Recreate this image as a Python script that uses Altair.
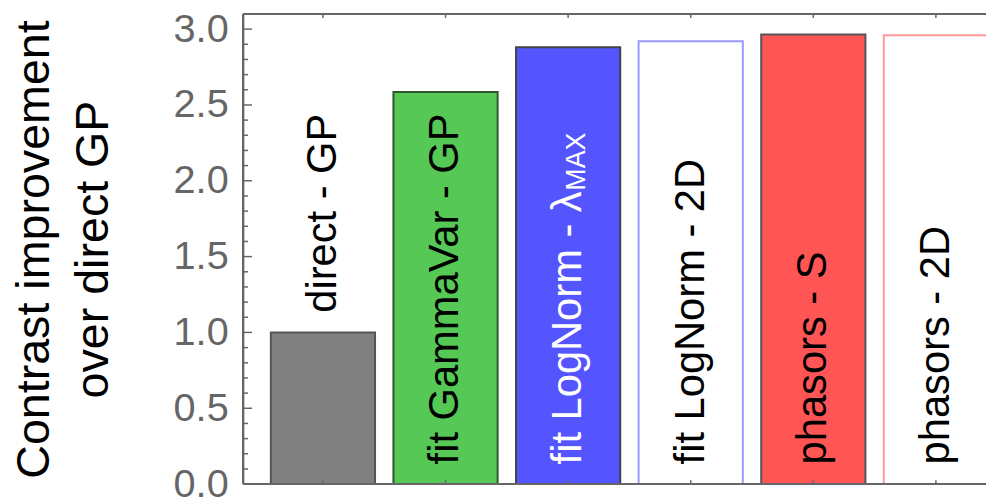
import altair as alt
import pandas as pd

# ---- data ----
categories = ["direct - GP", "fit GammaVar - GP", "fit LogNorm - λ", "fit LogNorm - 2D",
              "phasors - S", "phasors - 2D"]
values = [1.00, 2.585, 2.88, 2.92, 2.965, 2.96]
y_ticks = [0.0, 0.5, 1.0, 1.5, 2.0, 2.5, 3.0]
minor_ticks = [round(i * 0.1, 1) for i in range(31)]

# ---- styles ----
fill_colors = ["#808080", "#55c855", "#5555ff", "#ffffff", "#ff5555", "#ffffff"]
stroke_colors = ["#555555", "#2f5a2f", "#444444", "#9999ff", "#555555", "#ff9999"]
text_colors = ["#000000", "#000000", "#ffffff", "#000000", "#000000", "#000000"]
FONT = "Liberation Sans"
AXIS_COLOR = "#666666"
W, H = 749, 474          # visible plot area (the last bar runs past the right edge)
BAND_RANGE = 779         # full extent of the band scale

df = pd.DataFrame({"category": categories, "value": values})
# label starts just above the bar base; short bars get the label above the bar
df["label_base"] = [v if v < 1.5 else 0.0 for v in values]

xenc = alt.X("category:N", sort=categories, axis=None,
             scale=alt.Scale(range=[0, BAND_RANGE], paddingInner=0.15, paddingOuter=0.2265))
yscale = alt.Scale(domain=[0, 3.1], nice=False, zero=True)
yaxis = alt.Axis(values=y_ticks, format=".1f", ticks=False, domain=False, grid=False,
                 labelFont=FONT, labelFontSize=40, labelColor=AXIS_COLOR,
                 labelPadding=15,
                 title=["Contrast improvement", "over direct GP"],
                 titleFont=FONT, titleFontSize=47, titleFontWeight="normal",
                 titleColor="#000000", titleLineHeight=60, titlePadding=56)


def yenc(field):
    return alt.Y(field, scale=yscale, axis=yaxis)


bars = alt.Chart(df).mark_bar(strokeWidth=2).encode(
    x=xenc,
    y=yenc("value:Q"),
    fill=alt.Fill("category:N", scale=alt.Scale(domain=categories, range=fill_colors), legend=None),
    stroke=alt.Stroke("category:N", scale=alt.Scale(domain=categories, range=stroke_colors), legend=None),
)

labels = alt.Chart(df).transform_calculate(
    ly="datum.label_base + 0.13"
).mark_text(angle=270, align="left", baseline="middle", font=FONT, fontSize=42).encode(
    x=xenc,
    y=yenc("ly:Q"),
    text="category:N",
    color=alt.Color("category:N", scale=alt.Scale(domain=categories, range=text_colors), legend=None),
)

sub_df = pd.DataFrame({"category": [categories[2]], "sub": ["MAX"], "base": [0.0]})
subscript = alt.Chart(sub_df).transform_calculate(
    ly="datum.base + 0.13"
).mark_text(angle=270, align="left", baseline="middle", font=FONT, fontSize=27,
            color="#ffffff", dx=276, dy=9).encode(
    x=xenc,
    y=yenc("ly:Q"),
    text="sub:N",
)

tick_df = pd.DataFrame({"v": minor_ticks})
tick_df["major"] = [abs(v * 2 - round(v * 2)) < 1e-9 for v in minor_ticks]
minor = alt.Chart(tick_df).transform_filter("!datum.major").mark_rule(
    color=AXIS_COLOR, strokeWidth=1.5).encode(
    x=alt.value(0), x2=alt.value(5), y=yenc("v:Q"))
major = alt.Chart(tick_df).transform_filter("datum.major").mark_rule(
    color=AXIS_COLOR, strokeWidth=1.5).encode(
    x=alt.value(0), x2=alt.value(9), y=yenc("v:Q"))

top_ticks = alt.Chart(df).mark_rule(color=AXIS_COLOR, strokeWidth=1.5).encode(
    x=xenc, y=alt.value(0), y2=alt.value(4))
bottom_ticks = alt.Chart(df).mark_rule(color=AXIS_COLOR, strokeWidth=1.5).encode(
    x=xenc, y=alt.value(H), y2=alt.value(H - 4))

# frame (left, top, bottom); the right side lies beyond the picture
frame_left = alt.Chart(df).mark_rule(color=AXIS_COLOR, strokeWidth=2).encode(
    x=alt.value(0), y=alt.value(0), y2=alt.value(H))
frame_top = alt.Chart(df).mark_rule(color=AXIS_COLOR, strokeWidth=2).encode(
    x=alt.value(0), x2=alt.value(W + 40), y=alt.value(0))
frame_bottom = alt.Chart(df).mark_rule(color=AXIS_COLOR, strokeWidth=2).encode(
    x=alt.value(0), x2=alt.value(W + 40), y=alt.value(H))

chart = alt.layer(bars, labels, subscript, minor, major, top_ticks, bottom_ticks,
                  frame_left, frame_top, frame_bottom).properties(
    width=W, height=H,
    autosize=alt.AutoSizeParams(type="none"),
    padding={"left": 237, "top": 4, "right": 0, "bottom": 11},
    background="white",
).configure_view(stroke=None)

chart.save("out.html", embed_options={"renderer": "svg", "actions": False})
